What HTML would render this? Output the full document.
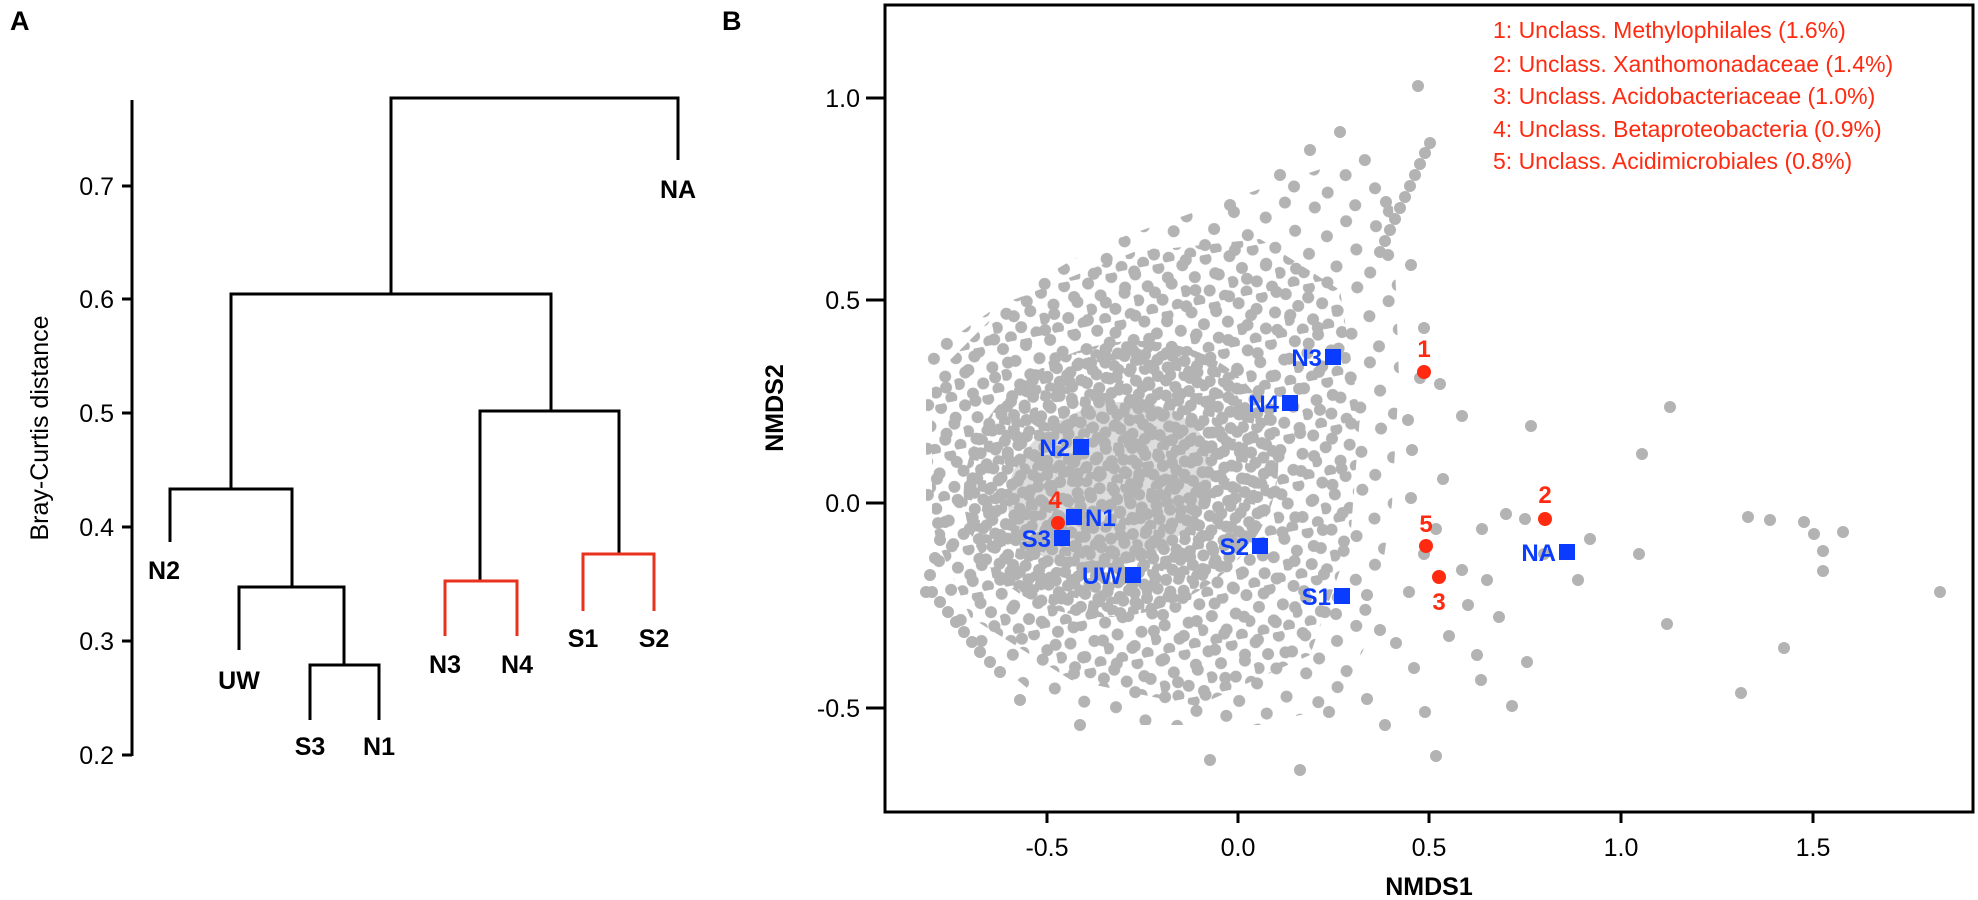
<!DOCTYPE html>
<html><head><meta charset="utf-8"><style>
html,body{margin:0;padding:0;background:#fff;}
svg{display:block;font-family:"Liberation Sans",Arial,sans-serif;}
</style></head><body>
<svg width="1978" height="900" viewBox="0 0 1978 900" xmlns="http://www.w3.org/2000/svg">
<defs>
<pattern id="pa" width="64" height="64" patternUnits="userSpaceOnUse" patternTransform="rotate(17)">
<g fill="#b3b3b3">
<circle cx="8" cy="10" r="6"/><circle cx="38" cy="6" r="6"/><circle cx="58" cy="30" r="6"/>
<circle cx="26" cy="34" r="6"/><circle cx="46" cy="52" r="6"/><circle cx="12" cy="56" r="6"/>
</g></pattern>
<pattern id="pb" width="48" height="48" patternUnits="userSpaceOnUse" patternTransform="rotate(-11)">
<g fill="#b3b3b3">
<circle cx="6" cy="6" r="6"/><circle cx="30" cy="4" r="6"/>
<circle cx="16" cy="20" r="6"/><circle cx="40" cy="22" r="6"/>
<circle cx="4" cy="32" r="6"/><circle cx="28" cy="36" r="6"/>
<circle cx="16" cy="44" r="6"/><circle cx="42" cy="44" r="6"/>
</g></pattern>
<pattern id="pc" width="40" height="40" patternUnits="userSpaceOnUse" patternTransform="rotate(29)">
<g fill="#b3b3b3">
<circle cx="5" cy="5" r="6"/><circle cx="19" cy="3" r="6"/><circle cx="33" cy="8" r="6"/>
<circle cx="12" cy="16" r="6"/><circle cx="26" cy="18" r="6"/><circle cx="38" cy="24" r="6"/>
<circle cx="4" cy="26" r="6"/><circle cx="17" cy="29" r="6"/><circle cx="30" cy="32" r="6"/>
<circle cx="9" cy="37" r="6"/><circle cx="23" cy="39" r="6"/>
</g></pattern>
</defs>
<rect width="1978" height="900" fill="#fff"/>
<text x="10" y="30" font-size="27" font-weight="bold">A</text>
<g stroke="#000" stroke-width="3" fill="none">
<line x1="132" y1="100" x2="132" y2="756"/>
<line x1="122" y1="186" x2="132" y2="186"/>
<line x1="122" y1="299" x2="132" y2="299"/>
<line x1="122" y1="413" x2="132" y2="413"/>
<line x1="122" y1="527" x2="132" y2="527"/>
<line x1="122" y1="641" x2="132" y2="641"/>
<line x1="122" y1="755" x2="132" y2="755"/>
<polyline points="391,294 391,98 678,98 678,160"/>
<polyline points="231,489 231,294 551,294 551,411"/>
<polyline points="170,542 170,489 292,489 292,587"/>
<polyline points="239,650 239,587 344,587 344,665"/>
<polyline points="310,720 310,665 379,665 379,720"/>
<polyline points="480,581 480,411 619,411 619,554"/>
</g>
<g stroke="#e8321e" stroke-width="3" fill="none">
<polyline points="445,636 445,581 517,581 517,636"/>
<polyline points="583,611 583,554 654,554 654,611"/>
</g>
<g font-size="25" text-anchor="end">
<text x="114" y="195">0.7</text><text x="114" y="308">0.6</text><text x="114" y="422">0.5</text>
<text x="114" y="536">0.4</text><text x="114" y="650">0.3</text><text x="114" y="764">0.2</text>
</g>
<text transform="translate(48,428) rotate(-90)" font-size="25" text-anchor="middle">Bray-Curtis distance</text>
<g font-size="25" font-weight="bold" text-anchor="middle">
<text x="678" y="198">NA</text><text x="164" y="579">N2</text><text x="239" y="689">UW</text>
<text x="310" y="755">S3</text><text x="379" y="755">N1</text>
<text x="445" y="673">N3</text><text x="517" y="673">N4</text>
<text x="583" y="647">S1</text><text x="654" y="647">S2</text>
</g>

<text x="722" y="30" font-size="27" font-weight="bold">B</text>
<polygon points="926,340 958,334 1021,290 1096,246 1172,220 1260,189 1336,164 1361,145 1392,176 1399,378 1392,504 1373,630 1336,706 1260,725 1134,725 1033,693 958,630 926,592" fill="url(#pa)"/>
<polygon points="932,378 1008,302 1134,252 1260,239 1340,290 1360,416 1350,542 1310,655 1197,706 1071,680 970,617 932,529" fill="url(#pb)"/>
<ellipse cx="1121" cy="479" rx="160" ry="135" transform="rotate(-20 1121 479)" fill="url(#pc)"/>
<ellipse cx="1110" cy="485" rx="105" ry="80" transform="rotate(-20 1110 485)" fill="#b3b3b3" opacity="0.45"/>
<g fill="#b3b3b3">
<circle cx="1380" cy="252" r="6"/><circle cx="1385" cy="241" r="6"/><circle cx="1390" cy="230" r="6"/><circle cx="1395" cy="219" r="6"/>
<circle cx="1400" cy="208" r="6"/><circle cx="1405" cy="197" r="6"/><circle cx="1410" cy="186" r="6"/><circle cx="1415" cy="175" r="6"/>
<circle cx="1420" cy="164" r="6"/><circle cx="1425" cy="153" r="6"/><circle cx="1430" cy="143" r="6"/>
<circle cx="932" cy="592" r="6"/><circle cx="940" cy="602" r="6"/><circle cx="948" cy="612" r="6"/><circle cx="956" cy="622" r="6"/>
<circle cx="964" cy="632" r="6"/><circle cx="972" cy="642" r="6"/><circle cx="980" cy="652" r="6"/><circle cx="990" cy="662" r="6"/><circle cx="1000" cy="672" r="6"/>
<circle cx="926" cy="592" r="6"/><circle cx="930" cy="575" r="6"/><circle cx="935" cy="558" r="6"/><circle cx="940" cy="540" r="6"/><circle cx="945" cy="522" r="6"/>
<circle cx="1670" cy="407" r="6"/><circle cx="1642" cy="454" r="6"/><circle cx="1748" cy="517" r="6"/><circle cx="1770" cy="520" r="6"/>
<circle cx="1804" cy="522" r="6"/><circle cx="1814" cy="534" r="6"/><circle cx="1823" cy="551" r="6"/><circle cx="1823" cy="571" r="6"/>
<circle cx="1843" cy="532" r="6"/><circle cx="1940" cy="592" r="6"/><circle cx="1784" cy="648" r="6"/><circle cx="1741" cy="693" r="6"/>
<circle cx="1639" cy="554" r="6"/><circle cx="1667" cy="624" r="6"/><circle cx="1578" cy="580" r="6"/><circle cx="1506" cy="514" r="6"/>
<circle cx="1531" cy="426" r="6"/><circle cx="1367" cy="699" r="6"/><circle cx="1425" cy="712" r="6"/><circle cx="1527" cy="662" r="6"/>
<circle cx="1436" cy="756" r="6"/><circle cx="1380" cy="630" r="6"/><circle cx="1367" cy="595" r="6"/><circle cx="1409" cy="592" r="6"/>
<circle cx="1468" cy="605" r="6"/><circle cx="1487" cy="580" r="6"/><circle cx="1462" cy="570" r="6"/><circle cx="1336" cy="614" r="6"/>
<circle cx="1436" cy="529" r="6"/><circle cx="1525" cy="519" r="6"/><circle cx="1482" cy="529" r="6"/><circle cx="1590" cy="539" r="6"/>
<circle cx="1544" cy="554" r="6"/><circle cx="1462" cy="416" r="6"/><circle cx="1329" cy="712" r="6"/><circle cx="1385" cy="725" r="6"/>
<circle cx="1418" cy="86" r="6"/><circle cx="1424" cy="554" r="6"/><circle cx="1411" cy="498" r="6"/><circle cx="1443" cy="479" r="6"/>
<circle cx="1481" cy="680" r="6"/><circle cx="1512" cy="706" r="6"/><circle cx="1414" cy="668" r="6"/><circle cx="1449" cy="636" r="6"/>
<circle cx="1477" cy="655" r="6"/><circle cx="1499" cy="617" r="6"/><circle cx="1396" cy="643" r="6"/><circle cx="1411" cy="265" r="6"/>
<circle cx="1386" cy="202" r="6"/><circle cx="1424" cy="328" r="6"/><circle cx="1420" cy="378" r="6"/><circle cx="1440" cy="384" r="6"/>
<circle cx="1408" cy="420" r="6"/><circle cx="1412" cy="450" r="6"/><circle cx="1300" cy="770" r="6"/><circle cx="1210" cy="760" r="6"/>
<circle cx="1080" cy="725" r="6"/><circle cx="1020" cy="700" r="6"/><circle cx="1310" cy="150" r="6"/><circle cx="1340" cy="132" r="6"/>
<circle cx="1280" cy="175" r="6"/><circle cx="1230" cy="205" r="6"/>
</g>
<rect x="885" y="5" width="1088" height="807" fill="none" stroke="#000" stroke-width="3"/>
<g stroke="#000" stroke-width="3">
<line x1="866" y1="98" x2="885" y2="98"/><line x1="866" y1="300" x2="885" y2="300"/>
<line x1="866" y1="503" x2="885" y2="503"/><line x1="866" y1="708" x2="885" y2="708"/>
<line x1="1047" y1="812" x2="1047" y2="823"/><line x1="1238" y1="812" x2="1238" y2="823"/>
<line x1="1429" y1="812" x2="1429" y2="823"/><line x1="1621" y1="812" x2="1621" y2="823"/>
<line x1="1813" y1="812" x2="1813" y2="823"/>
</g>
<g font-size="25" text-anchor="end">
<text x="860" y="107">1.0</text><text x="860" y="309">0.5</text><text x="860" y="512">0.0</text><text x="860" y="717">-0.5</text>
</g>
<g font-size="25" text-anchor="middle">
<text x="1047" y="856">-0.5</text><text x="1238" y="856">0.0</text><text x="1429" y="856">0.5</text>
<text x="1621" y="856">1.0</text><text x="1813" y="856">1.5</text>
</g>
<text x="1429" y="895" font-size="25" font-weight="bold" text-anchor="middle">NMDS1</text>
<text transform="translate(783,408) rotate(-90)" font-size="25" font-weight="bold" text-anchor="middle">NMDS2</text>
<g font-size="23" fill="#ff2a10">
<text x="1493" y="38">1: Unclass. Methylophilales (1.6%)</text>
<text x="1493" y="72">2: Unclass. Xanthomonadaceae (1.4%)</text>
<text x="1493" y="104">3: Unclass. Acidobacteriaceae (1.0%)</text>
<text x="1493" y="137">4: Unclass. Betaproteobacteria (0.9%)</text>
<text x="1493" y="169">5: Unclass. Acidimicrobiales (0.8%)</text>
</g>
<g fill="#ff2a10">
<circle cx="1424" cy="372" r="7"/><circle cx="1545" cy="519" r="7"/><circle cx="1426" cy="546" r="7"/>
<circle cx="1439" cy="577" r="7"/><circle cx="1058" cy="523" r="7"/>
</g>
<g fill="#ff2a10" font-size="24" font-weight="bold" text-anchor="middle">
<text x="1424" y="357">1</text><text x="1545" y="503">2</text><text x="1426" y="532">5</text>
<text x="1439" y="610">3</text><text x="1055" y="508">4</text>
</g>
<g fill="#0a3cff">
<rect x="1325" y="349" width="16" height="16"/><rect x="1282" y="395" width="16" height="16"/>
<rect x="1073" y="439" width="16" height="16"/><rect x="1066" y="509" width="16" height="16"/>
<rect x="1054" y="530" width="16" height="16"/><rect x="1252" y="538" width="16" height="16"/>
<rect x="1125" y="567" width="16" height="16"/><rect x="1334" y="588" width="16" height="16"/>
<rect x="1559" y="544" width="16" height="16"/>
</g>
<g fill="#0a3cff" font-size="24" font-weight="bold" text-anchor="end">
<text x="1322" y="366">N3</text><text x="1279" y="412">N4</text><text x="1070" y="456">N2</text>
<text x="1051" y="547">S3</text><text x="1249" y="555">S2</text><text x="1122" y="584">UW</text>
<text x="1331" y="605">S1</text><text x="1556" y="561">NA</text>
<text x="1085" y="526" text-anchor="start">N1</text>
</g>
</svg>
</body></html>
